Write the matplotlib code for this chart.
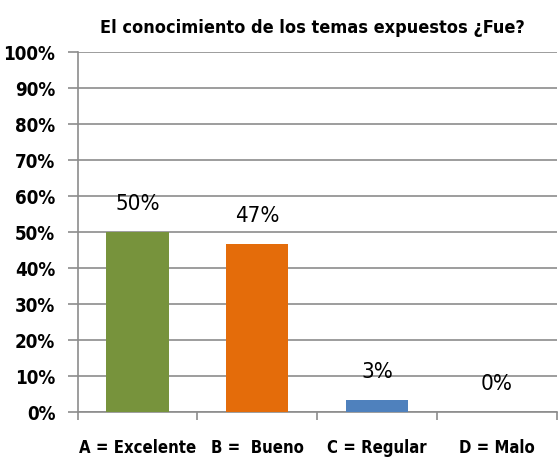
import matplotlib.pyplot as plt
from matplotlib.ticker import MultipleLocator, FuncFormatter

# Chart data
categories = ["A = Excelente", "B =  Bueno", "C = Regular", "D = Malo"]
values = [50, 46.7, 3.3, 0]
bar_colors = ["#77933C", "#E46C0A", "#4F81BD", "#4F81BD"]
title = "El conocimiento de los temas expuestos ¿Fue?"

FONT = {"family": "DejaVu Sans", "stretch": "condensed"}

fig = plt.figure(figsize=(5.58, 4.61), dpi=100)
ax = fig.add_axes([0.139, 0.106, 0.859, 0.781])

x = list(range(len(categories)))
ax.bar(x, values, width=0.52, color=bar_colors, zorder=3)

ax.set_xlim(-0.5, len(categories) - 0.5)
ax.set_ylim(0, 100)
ax.yaxis.set_major_locator(MultipleLocator(10))
ax.yaxis.set_major_formatter(FuncFormatter(lambda v, p: f"{v:.0f}%"))
ax.grid(axis="y", color="#8c8c8c", linewidth=1.2, zorder=0)

# category ticks sit between bars
ax.set_xticks([i - 0.5 for i in range(len(categories) + 1)], minor=False)
ax.set_xticklabels([])
ax.set_xticks(x, minor=True)
ax.set_xticklabels(categories, minor=True, fontweight="bold", fontsize=12, **FONT)
ax.tick_params(axis="x", which="minor", length=0, pad=19)
ax.tick_params(axis="x", which="major", length=6, color="#8c8c8c", width=1.2)
ax.tick_params(axis="y", length=7, color="#8c8c8c", width=1.2, pad=9)
for lbl in ax.get_yticklabels():
    lbl.set_fontweight("bold")
    lbl.set_fontsize(13.5)
    lbl.set_family(FONT["family"])
    lbl.set_stretch("condensed")

for s in ["top", "right"]:
    ax.spines[s].set_visible(False)
for s in ["left", "bottom"]:
    ax.spines[s].set_color("#8c8c8c")
    ax.spines[s].set_linewidth(1.2)

for xi, v in zip(x, values):
    ax.annotate(f"{v:.0f}%", (xi, v), xytext=(0, 20), textcoords="offset points",
                ha="center", va="center", fontsize=16, **FONT)

fig.text(0.56, 0.94, title, ha="center", va="center", fontsize=13,
         fontweight="bold", **FONT)

fig.savefig("out.png", dpi=100)
